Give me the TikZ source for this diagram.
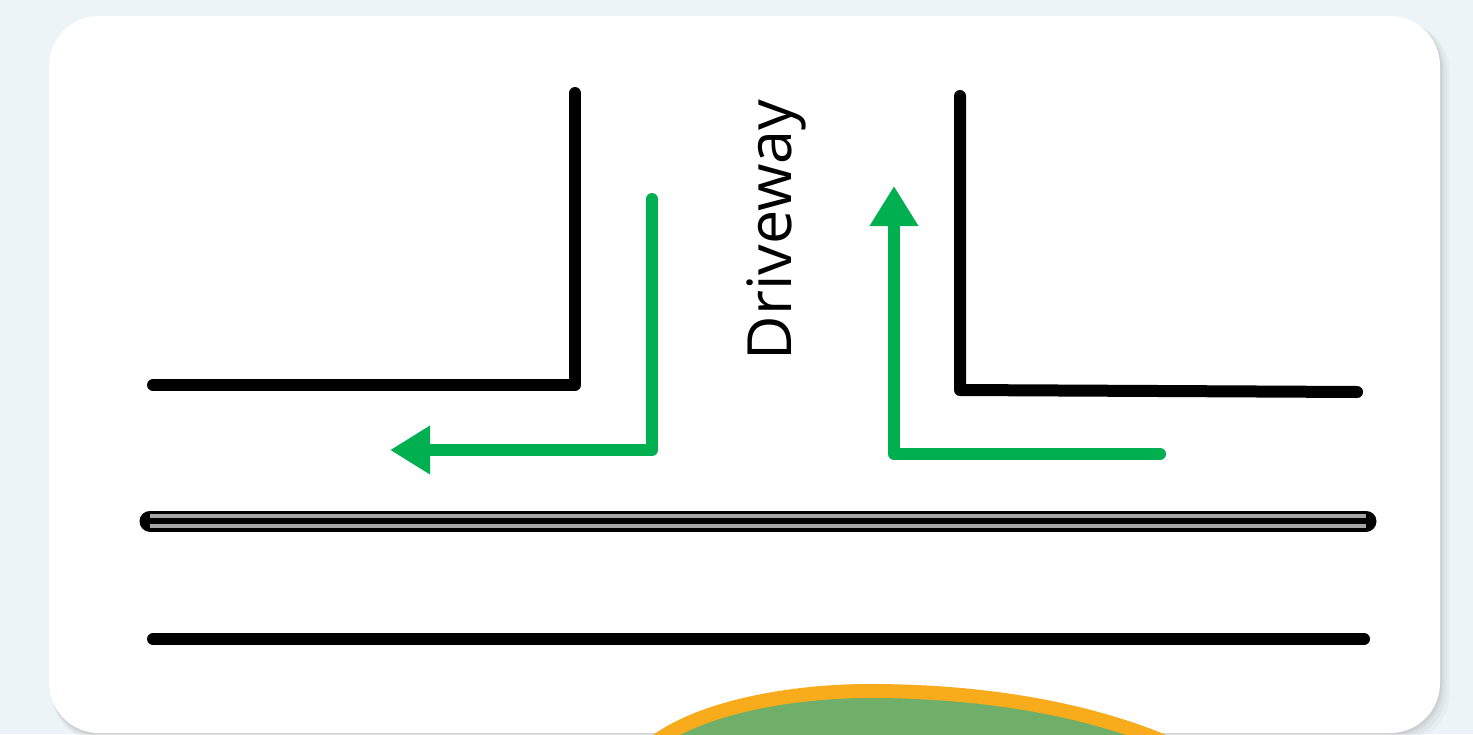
\documentclass[tikz,border=0pt]{standalone}
\usepackage{fontspec}
\setmainfont{Open Sans}
\usetikzlibrary{arrows.meta}
\definecolor{bgc}{HTML}{EDF4F7}
\definecolor{grn}{HTML}{00B050}
\definecolor{blobg}{HTML}{6FAF6A}
\definecolor{blobo}{HTML}{F8AC1C}
\tikzset{
  curb/.style={line width=12pt, line cap=round, line join=round, black},
  route/.style={line width=12pt, line cap=round, line join=round, grn},
  rtip/.style={-{Triangle[length=40pt,width=46pt]}},
}
\begin{document}
\begin{tikzpicture}[x=1pt,y=-1pt]
\useasboundingbox (0,0) rectangle (1473,734);
\clip (0,0) rectangle (1473,734);
\fill[bgc] (0,0) rectangle (1473,734);
% card shadow
\foreach \d/\o in {10/0.025,7/0.03,4/0.04,2/0.05}{
  \fill[black,opacity=\o,rounded corners=52pt] (49+\d*0.3,16+\d*0.5) rectangle (1440+\d,734+\d);
}
\fill[white,rounded corners=50pt] (49,16) rectangle (1440,733);
% curbs
\coordinate (lt) at (575,93);
\coordinate (lc) at (575,385);
\coordinate (ll) at (153,385);
\draw[curb] (ll) -- (lc) -- (lt);
\coordinate (rt) at (960,96);
\coordinate (rc) at (960,390);
\coordinate (rr) at (1357,392);
\draw[curb] (rt) -- (rc) -- (rr);
% centre line
\coordinate (cl) at (150,521);
\coordinate (cr) at (1366,521);
\draw[line width=21pt,line cap=round,black] (cl) -- (cr);
\draw[line width=14pt,line cap=butt,gray!70] (cl) -- (cr);
\draw[line width=6pt,line cap=butt,black] (cl) -- (cr);
% bottom edge
\coordinate (bl) at (153,639);
\coordinate (br) at (1364,639);
\draw[curb] (bl) -- (br);
% routes
\coordinate (ga) at (652,199);
\coordinate (gb) at (652,450);
\coordinate (gc) at (425,450);
\draw[route] (ga) -- (gb) -- (gc);
\draw[route,line cap=butt,rtip] (430,450) -- (390,450);
\coordinate (ha) at (1160,454);
\coordinate (hb) at (894,454);
\coordinate (hc) at (894,226);
\draw[route] (ha) -- (hb) -- (hc);
\draw[route,line cap=butt,rtip] (894,230) -- (894,186);
% label
\node[rotate=90,anchor=base,inner sep=0pt,font=\fontsize{61}{61}\selectfont] (dw) at (791,230) {Driveway};
% blob
\filldraw[fill=blobg,draw=blobo,line width=14pt]
  (636,760) .. controls (675,712) and (780,691) .. (870,691)
  .. controls (970,691) and (1080,705) .. (1172,745) -- (1172,760) -- cycle;
\end{tikzpicture}
\end{document}
